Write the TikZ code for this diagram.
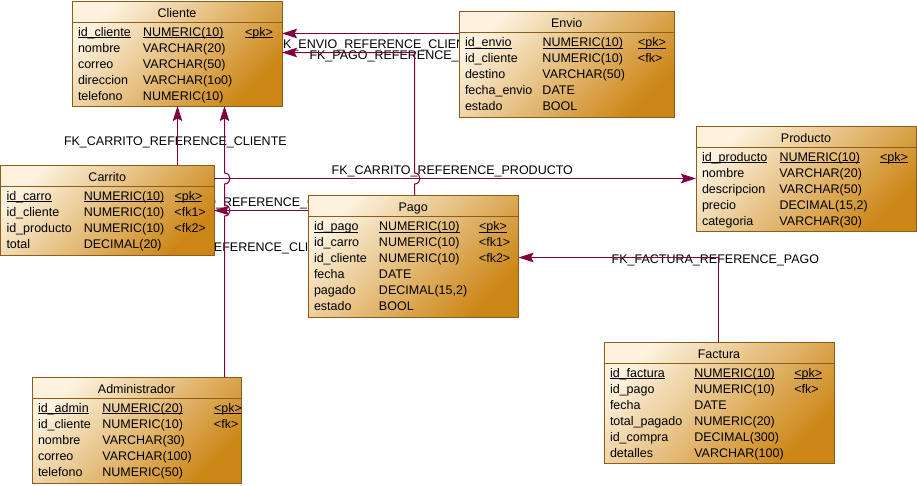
\documentclass[tikz,border=0pt]{standalone}
\usepackage{fontspec}
\setmainfont{Liberation Sans}
\usetikzlibrary{arrows.meta}
\definecolor{fkc}{RGB}{128,0,64}
\definecolor{brd}{RGB}{140,92,24}
\definecolor{tA}{RGB}{252,242,222}
\definecolor{tB}{RGB}{238,186,100}
\definecolor{tC}{RGB}{204,134,22}
\pgfdeclarelayer{labels}
\pgfsetlayers{labels,main}
\newcommand\pku[1]{\leavevmode\setbox0\hbox{#1}\rlap{\rule[-1.7pt]{\wd0}{0.7pt}}\box0}
\newcommand\ertable[9]{%
  \node[tbl, minimum width=#4pt, minimum height=#5pt, anchor=north west] (#1) at (#2,#3) {};
  \draw[tblline] ([yshift=-21pt]#1.north west) -- ([yshift=-21pt]#1.north east);
  \node[txt, anchor=base] (#1-title) at ([yshift=-16pt]#1.north) {#6};
  \node[txt, anchor=base west] (#1-rows) at ([xshift=6pt,yshift=-35pt]#1.north west)
    {\begin{tabular}[t]{@{}p{#7pt}@{}p{#8pt}@{}l@{}}#9\end{tabular}};
}
\begin{document}
\begin{tikzpicture}[x=1pt,y=-1pt,
  txt/.style={inner sep=0pt, outer sep=0pt, font=\fontsize{12.5}{16}\selectfont},
  lbl/.style={txt, anchor=base west},
  tbl/.style={draw=brd, line width=0.9pt, top color=tA, middle color=tB, bottom color=tC, shading angle=45, inner sep=0pt, outer sep=0pt},
  tblline/.style={draw=brd, line width=0.9pt},
  fk/.style={draw=fkc, line width=1pt, -{Stealth[length=15pt,width=9.5pt,inset=2.5pt]}}]
\useasboundingbox (0,0) rectangle (917,485);

\begin{pgfonlayer}{labels}
\node[lbl] (l1) at (275.5,48.8) {FK\_ENVIO\_REFERENCE\_CLIENTE};
\node[lbl] (l2) at (309.5,59.5) {FK\_PAGO\_REFERENCE\_CLIENTE};
\node[lbl] (l3) at (64,145.5) {FK\_CARRITO\_REFERENCE\_CLIENTE};
\node[lbl] (l4) at (123,251.5) {FK\_ADMINIS\_REFERENCE\_CLIENTE};
\node[lbl] (l5) at (158,206.5) {FK\_PAGO\_REFERENCE\_CARRITO};
\node[lbl] (l6) at (331.7,174.5) {FK\_CARRITO\_REFERENCE\_PRODUCTO};
\node[lbl] (l7) at (611.7,263) {FK\_FACTURA\_REFERENCE\_PAGO};
\end{pgfonlayer}

\ertable{cliente}{72}{1}{210}{105}{Cliente}{65}{102}{%
\pku{id\_cliente} & \pku{NUMERIC(10)} & \pku{<pk>}\\
nombre & VARCHAR(20) & \\
correo & VARCHAR(50) & \\
direccion & VARCHAR(1o0) & \\
telefono & NUMERIC(10) & }

\ertable{envio}{459}{11.5}{215.5}{106}{Envio}{77.5}{95.5}{%
\pku{id\_envio} & \pku{NUMERIC(10)} & \pku{<pk>}\\
id\_cliente & NUMERIC(10) & <fk>\\
destino & VARCHAR(50) & \\
fecha\_envio & DATE & \\
estado & BOOL & }

\ertable{producto}{696}{126}{220}{105}{Producto}{77.5}{100.5}{%
\pku{id\_producto} & \pku{NUMERIC(10)} & \pku{<pk>}\\
nombre & VARCHAR(20) & \\
descripcion & VARCHAR(50) & \\
precio & DECIMAL(15,2) & \\
categoria & VARCHAR(30) & }

\ertable{carrito}{0.5}{165}{213.5}{90}{Carrito}{77.3}{90.7}{%
\pku{id\_carro} & \pku{NUMERIC(10)} & \pku{<pk>}\\
id\_cliente & NUMERIC(10) & <fk1>\\
id\_producto & NUMERIC(10) & <fk2>\\
total & DECIMAL(20) & }

\ertable{pago}{308}{195.5}{210.5}{122}{Pago}{65}{100}{%
\pku{id\_pago} & \pku{NUMERIC(10)} & \pku{<pk>}\\
id\_carro & NUMERIC(10) & <fk1>\\
id\_cliente & NUMERIC(10) & <fk2>\\
fecha & DATE & \\
pagado & DECIMAL(15,2) & \\
estado & BOOL & }

\ertable{factura}{604}{342.3}{230}{121.5}{Factura}{84.3}{100}{%
\pku{id\_factura} & \pku{NUMERIC(10)} & \pku{<pk>}\\
id\_pago & NUMERIC(10) & <fk>\\
fecha & DATE & \\
total\_pagado & NUMERIC(20) & \\
id\_compra & DECIMAL(300) & \\
detalles & VARCHAR(100) & }

\ertable{admin}{32}{377.3}{209}{106}{Administrador}{64.4}{111.6}{%
\pku{id\_admin} & \pku{NUMERIC(20)} & \pku{<pk>}\\
id\_cliente & NUMERIC(10) & <fk>\\
nombre & VARCHAR(30) & \\
correo & VARCHAR(100) & \\
telefono & NUMERIC(50) & }

% connectors
\draw[fk] (envio.west |- 0,33.5) -- (cliente.east |- 0,33.5);
\draw[fk] (pago.north -| 414.5,0) -- (414.5,184) .. controls (421.8,184) and (421.8,173) .. (414.5,173) -- (414.5,52.5) -- (cliente.east |- 0,52.5);
\draw[fk] (carrito.north -| 177.5,0) -- (cliente.south -| 177.5,0);
\draw[fk] (admin.north -| 224.5,0) -- (224.5,216) .. controls (231.8,216) and (231.8,205) .. (224.5,205) -- (224.5,184) .. controls (231.8,184) and (231.8,173) .. (224.5,173) -- (cliente.south -| 224.5,0);
\draw[fk] (pago.west |- 0,210.5) -- (carrito.east |- 0,210.5);
\draw[fk] (carrito.east |- 0,178.5) -- (producto.west |- 0,178.5);
\draw[fk] (factura.north -| 718.5,0) -- (718.5,257.5) -- (pago.east |- 0,257.5);
\end{tikzpicture}
\end{document}
